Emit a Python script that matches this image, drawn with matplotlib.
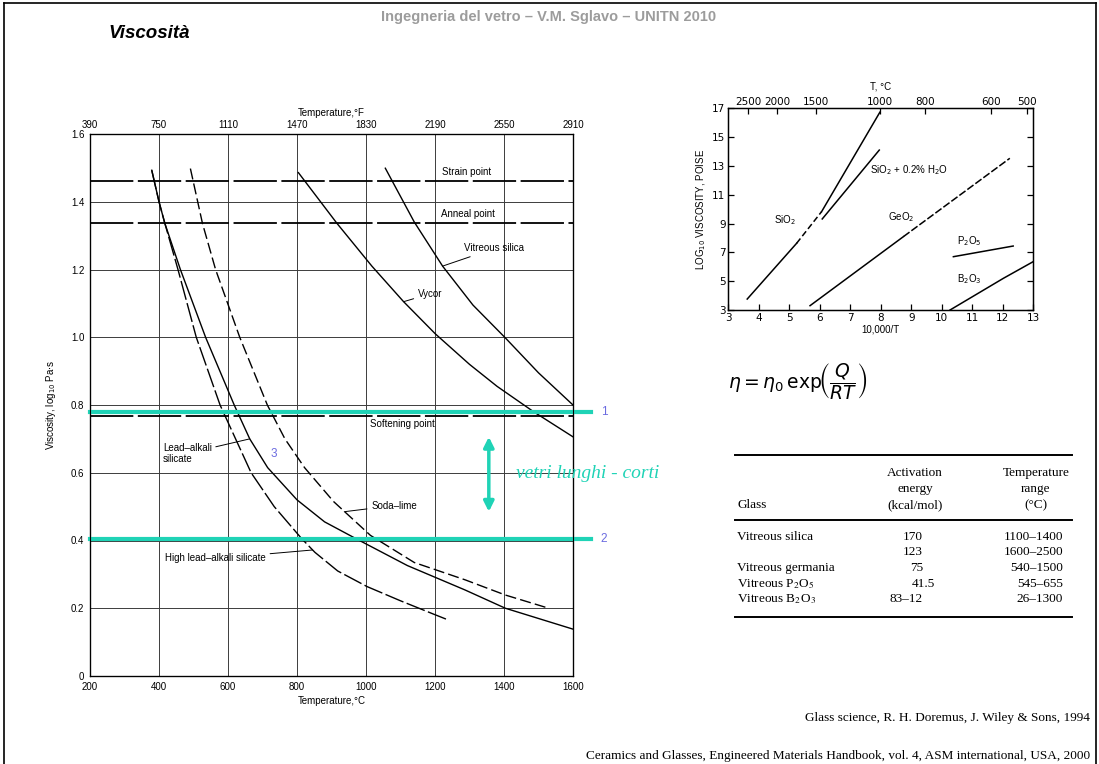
import matplotlib
matplotlib.use("Agg")
import matplotlib.pyplot as plt
from matplotlib.lines import Line2D

W, H = 1099, 764
CYAN = '#1fd3b6'
BLUE = '#6b6be0'
GREY = '#9c9c9c'
SANS = ['Liberation Sans', 'DejaVu Sans']
SERIF = ['Liberation Serif', 'DejaVu Serif']

# ---- left chart: viscosity vs temperature (ASM handbook) ----
temp_c_ticks = [200, 400, 600, 800, 1000, 1200, 1400, 1600]
temp_f_labels = ['390', '750', '1110', '1470', '1830', '2190', '2550', '2910']
visc_ticks = [0, 0.2, 0.4, 0.6, 0.8, 1.0, 1.2, 1.4, 1.6]
visc_labels = ['0', '0.2', '0.4', '0.6', '0.8', '1.0', '1.2', '1.4', '1.6']

strain_point = 1.462
anneal_point = 1.336
softening_point = 0.768
level_1 = 0.78
level_2 = 0.405

silica_T = [1056, 1140, 1222, 1310, 1404, 1500, 1600]
silica_v = [1.499, 1.34, 1.21, 1.095, 0.998, 0.895, 0.80]

vycor_T = [804, 916, 1017, 1109, 1201, 1300, 1380, 1486, 1600]
vycor_v = [1.486, 1.336, 1.21, 1.105, 1.01, 0.92, 0.855, 0.78, 0.706]

high_lead_T = [379, 400, 417, 455, 508, 577, 667, 734, 814, 852, 918, 1003, 1100, 1195, 1232]
high_lead_v = [1.493, 1.40, 1.336, 1.2, 1.0, 0.8, 0.6, 0.5, 0.405, 0.365, 0.31, 0.264,
               0.222, 0.183, 0.168]

lead_T = [379, 400, 417, 462, 535, 618, 663, 715, 800, 880, 970, 1120, 1287, 1404, 1601]
lead_v = [1.493, 1.40, 1.336, 1.2, 1.0, 0.8, 0.70, 0.615, 0.52, 0.455, 0.406, 0.326,
          0.254, 0.2, 0.138]

soda_T = [491, 526, 564, 634, 714, 765, 822, 906, 1013, 1140, 1287, 1404, 1520]
soda_v = [1.498, 1.336, 1.2, 1.0, 0.8, 0.70, 0.615, 0.515, 0.415, 0.335, 0.284, 0.239, 0.203]

# ---- right chart: log viscosity vs 10000/T (Doremus) ----
inv_t_ticks = [3, 4, 5, 6, 7, 8, 9, 10, 11, 12, 13]
log_p_ticks = [3, 5, 7, 9, 11, 13, 15, 17]
t_top_labels = ['2500', '2000', '1500', '1000', '800', '600', '500']
t_top_pos = [3.66, 4.6, 5.88, 7.98, 9.45, 11.62, 12.8]

sio2_x = [3.62, 5.24, 6.06, 7.97]
sio2_y = [3.76, 7.63, 9.83, 16.73]
sio2w_x = [6.08, 7.95]
sio2w_y = [9.32, 14.1]
geo2_x = [5.68, 8.74, 12.23]
geo2_y = [3.30, 8.09, 13.53]
p2o5_x = [10.38, 12.34]
p2o5_y = [6.70, 7.44]
b2o3_x = [10.27, 12.02, 13.0]
b2o3_y = [3.0, 5.2, 6.36]

# ---- table ----
tab_glass = ['Vitreous silica', '', 'Vitreous germania',
             'Vitreous P$_2$O$_5$', 'Vitreous B$_2$O$_3$']
tab_energy = ['170', '123', '75', '41.5', '83–12']
tab_range = ['1100–1400', '1600–2500', '540–1500', '545–655', '26–1300']


def fx(px):
    return px / W


def fy(py):
    return 1 - py / H


fig = plt.figure(figsize=(W / 100, H / 100), dpi=100)
fig.patch.set_facecolor('white')

# slide frame and header
fig.add_artist(Line2D([fx(4), fx(4)], [0, fy(3)], color='k', lw=1.2))
fig.add_artist(Line2D([fx(4), fx(1096)], [fy(3), fy(3)], color='k', lw=1.2))
fig.add_artist(Line2D([fx(1096), fx(1096)], [0, fy(3)], color='k', lw=1.2))
fig.text(fx(549), fy(17), 'Ingegneria del vetro – V.M. Sglavo – UNITN 2010',
         ha='center', va='center', color=GREY, fontsize=10.5, fontweight='bold',
         family=SANS)
fig.text(fx(108), fy(33), 'Viscosità', ha='left', va='center', fontsize=13.5,
         fontweight='bold', style='italic', family=SANS)

# ---------------- left chart ----------------
ax = fig.add_axes([fx(90), fy(676), fx(573) - fx(90), fy(134) - fy(676)])
ax.set_xlim(200, 1600)
ax.set_ylim(0, 1.6)
ax.set_xticks(temp_c_ticks)
ax.set_xticklabels([str(t) for t in temp_c_ticks], family=SANS)
ax.set_yticks(visc_ticks)
ax.set_yticklabels(visc_labels, family=SANS)
ax.tick_params(length=0, labelsize=7, pad=4)
ax.grid(True, color='#3c3c3c', lw=0.7)
for s in ax.spines.values():
    s.set_linewidth(0.9)
ax.set_xlabel('Temperature,°C', fontsize=7, family=SANS, labelpad=3)
ax.set_ylabel('Viscosity, log$_{10}$ Pa$\\cdot$s', fontsize=7, family=SANS, labelpad=9)

axt = ax.twiny()
axt.set_xlim(200, 1600)
axt.set_xticks(temp_c_ticks)
axt.set_xticklabels(temp_f_labels, family=SANS)
axt.tick_params(length=0, labelsize=7, pad=3)
axt.set_xlabel('Temperature,°F', fontsize=7, family=SANS, labelpad=3)

for lvl in (strain_point, anneal_point, softening_point):
    ax.axhline(lvl, color='k', lw=1.3, dashes=(24, 2.5))

ax.plot(silica_T, silica_v, color='k', lw=1.0)
ax.plot(vycor_T, vycor_v, color='k', lw=1.0)
ax.plot(high_lead_T, high_lead_v, color='k', lw=1.0, dashes=(14, 2.5))
ax.plot(lead_T, lead_v, color='k', lw=1.0)
ax.plot(soda_T, soda_v, color='k', lw=1.0, dashes=(8, 3))

# cyan reference levels
ax.plot([200, 1651], [level_1, level_1], color=CYAN, lw=3, clip_on=False, zorder=5)
ax.plot([200, 1651], [level_2, level_2], color=CYAN, lw=3, clip_on=False, zorder=5)
ax.text(1690, level_1, '1', color=BLUE, fontsize=8.5, va='center', ha='center',
        family=SANS, clip_on=False)
ax.text(1690, level_2, '2', color=BLUE, fontsize=8.5, va='center', ha='center',
        family=SANS, clip_on=False)
ax.text(732, 0.655, '3', color=BLUE, fontsize=8.5, va='center', ha='center', family=SANS)
ax.annotate('', xy=(1356, 0.485), xytext=(1356, 0.706),
            arrowprops=dict(arrowstyle='<|-|>', color=CYAN, lw=2.5,
                            mutation_scale=15, shrinkA=0, shrinkB=0))
fig.text(fx(516), fy(473), 'vetri lunghi - corti', color=CYAN, fontsize=14,
         style='italic', family=SERIF, va='center', ha='left')

lab = dict(fontsize=7, family=SANS, va='center')
leader = dict(arrowstyle='-', lw=0.7, color='k', shrinkA=1, shrinkB=0)
ax.text(1221, 1.489, 'Strain point', **lab)
ax.text(1218, 1.363, 'Anneal point', **lab)
ax.text(1013, 0.744, 'Softening point', **lab)
ax.annotate('Vitreous silica', xy=(1222, 1.21), xytext=(1285, 1.262),
            arrowprops=leader, **lab)
ax.annotate('Vycor', xy=(1109, 1.105), xytext=(1150, 1.128),
            arrowprops=leader, **lab)
ax.annotate('Lead–alkali\nsilicate', xy=(663, 0.70), xytext=(411, 0.657),
            arrowprops=leader, linespacing=1.1, **lab)
ax.annotate('Soda–lime', xy=(937, 0.485), xytext=(1015, 0.503),
            arrowprops=leader, **lab)
ax.annotate('High lead–alkali silicate', xy=(845, 0.372), xytext=(418, 0.347),
            arrowprops=leader, **lab)

# ---------------- right chart ----------------
ax2 = fig.add_axes([fx(728.3), fy(310), fx(1033.3) - fx(728.3), fy(108.3) - fy(310)])
ax2.set_xlim(3, 13)
ax2.set_ylim(3, 17)
ax2.set_xticks(inv_t_ticks)
ax2.set_yticks(log_p_ticks)
ax2.tick_params(direction='in', length=4, width=0.9, labelsize=7.5, pad=2,
                right=True)
for s in ax2.spines.values():
    s.set_linewidth(1.0)
ax2.set_xlabel('10,000/T', fontsize=7, family=SANS, labelpad=1)
ax2.set_ylabel('LOG$_{10}$ VISCOSITY, POISE', fontsize=7, family=SANS, labelpad=3)
ax2t = ax2.twiny()
ax2t.set_xlim(3, 13)
ax2t.set_xticks(t_top_pos)
ax2t.set_xticklabels(t_top_labels)
ax2t.tick_params(direction='in', length=4, width=0.9, labelsize=7.5, pad=1)
ax2t.set_xlabel('T, °C', fontsize=7, family=SANS, labelpad=5)

kw = dict(color='k', lw=1.1)
ax2.plot(sio2_x[:2], sio2_y[:2], **kw)
ax2.plot(sio2_x[1:3], sio2_y[1:3], dashes=(4, 2), **kw)
ax2.plot(sio2_x[2:], sio2_y[2:], **kw)
ax2.plot(sio2w_x, sio2w_y, **kw)
ax2.plot(geo2_x[:2], geo2_y[:2], **kw)
ax2.plot(geo2_x[1:], geo2_y[1:], dashes=(5, 1.5), **kw)
ax2.plot(p2o5_x, p2o5_y, **kw)
ax2.plot(b2o3_x, b2o3_y, **kw)

lab2 = dict(fontsize=7, family=SANS, va='center')
ax2.text(4.86, 9.25, 'SiO$_2$', ha='center', **lab2)
ax2.text(7.64, 12.72, 'SiO$_2$ + 0.2% H$_2$O', ha='left', **lab2)
ax2.text(8.25, 9.48, 'GeO$_2$', ha='left', **lab2)
ax2.text(10.49, 7.75, 'P$_2$O$_5$', ha='left', **lab2)
ax2.text(10.49, 5.15, 'B$_2$O$_3$', ha='left', **lab2)

# ---------------- formula ----------------
fig.text(fx(728), fy(382), r'$\eta = \eta_0\,\mathrm{exp}\!\left(\dfrac{Q}{RT}\right)$',
         fontsize=13.5, ha='left', va='center')

# ---------------- table ----------------
for yy in (455, 520, 617):
    fig.add_artist(Line2D([fx(735), fx(1072)], [fy(yy), fy(yy)], color='k', lw=1.4))
tk = dict(fontsize=9.5, family=SERIF, va='center', math_fontfamily='stix')
for txt, yy in (('Activation', 473), ('energy', 489), ('(kcal/mol)', 505)):
    fig.text(fx(915), fy(yy), txt, ha='center', **tk)
for txt, yy in (('Temperature', 473), ('range', 489), ('(°C)', 505)):
    fig.text(fx(1036), fy(yy), txt, ha='center', **tk)
fig.text(fx(737), fy(505), 'Glass', ha='left', **tk)
row_y = [537, 552, 568, 584, 599]
for g, e, r, yy in zip(tab_glass, tab_energy, tab_range, row_y):
    fig.text(fx(737), fy(yy), g, ha='left', **tk)
    fig.text(fx(923), fy(yy), e, ha='right' if '.' not in e else 'center', **tk)
    fig.text(fx(1063), fy(yy), r, ha='right', **tk)

# ---------------- references ----------------
fig.text(fx(1090), fy(718), 'Glass science, R. H. Doremus, J. Wiley & Sons, 1994',
         ha='right', va='center', fontsize=9.5, family=SERIF)
fig.text(fx(1090), fy(756),
         'Ceramics and Glasses, Engineered Materials Handbook, vol. 4, ASM international, USA, 2000',
         ha='right', va='center', fontsize=9.5, family=SERIF)

fig.savefig('out.png', dpi=100)
